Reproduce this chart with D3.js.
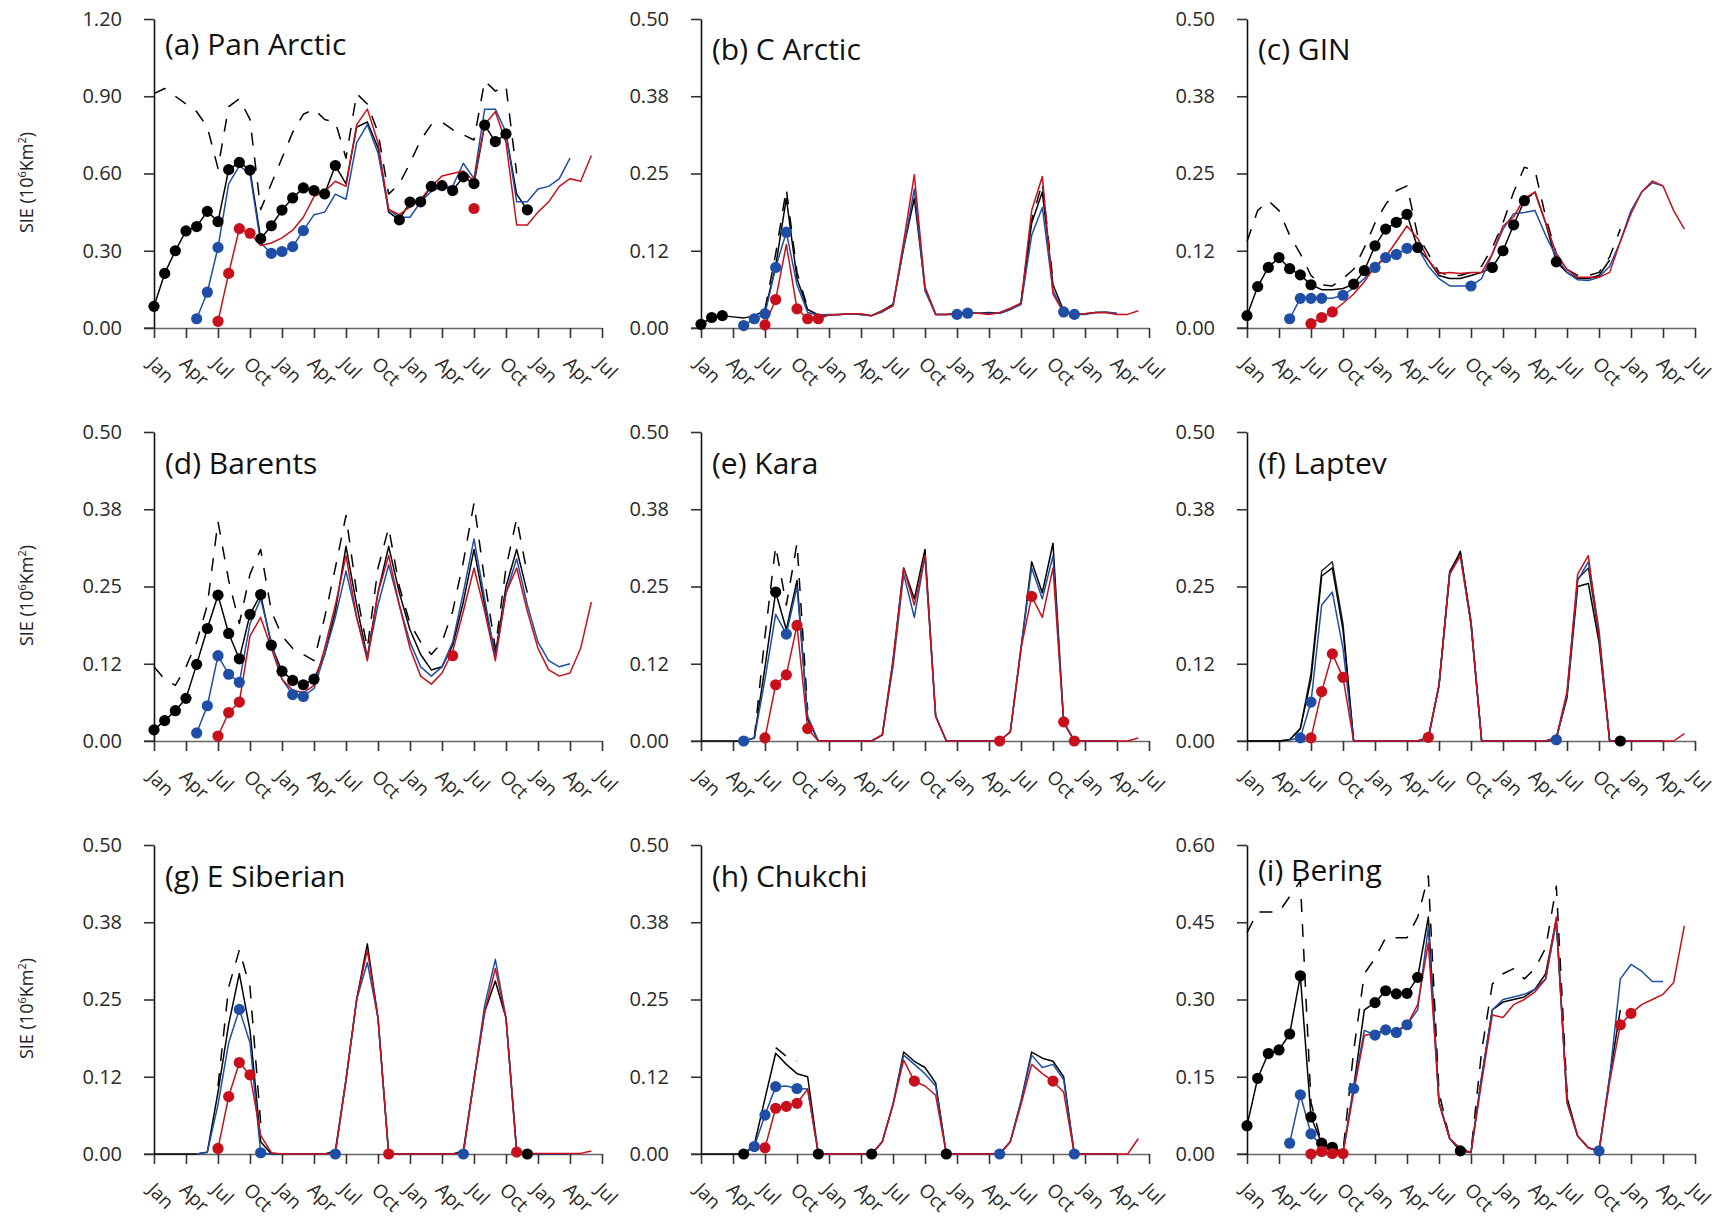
<!DOCTYPE html>
<html>
<head>
<meta charset="utf-8">
<script src="https://cdn.jsdelivr.net/npm/d3@7"></script>
<style>
  body { margin: 0; background: #fff; }
  svg { display: block; }
  text { font-family: "Open Sans", "Noto Sans", sans-serif; }
</style>
</head>
<body>
<svg id="fig" width="1725" height="1218"></svg>
<script>
// Monthly sea-ice extent, months counted from Jan of the first year (0) to Jul of the fourth (42).
const pad = (n, vals) => Array(n).fill(null).concat(vals);

const monthLabels = ["Jan", "Apr", "Jul", "Oct"];
const tickMonths = d3.range(0, 43, 3);

const ticksPan = [0, 0.3, 0.6, 0.9, 1.2];
const labelsPan = ["0.00", "0.30", "0.60", "0.90", "1.20"];
const ticksSea = [0, 0.125, 0.25, 0.375, 0.5];
const labelsSea = ["0.00", "0.12", "0.25", "0.38", "0.50"];
const ticksBering = [0, 0.15, 0.3, 0.45, 0.6];
const labelsBering = ["0.00", "0.15", "0.30", "0.45", "0.60"];

// (a) Pan Arctic
const aBlack = [0.084,0.212,0.300,0.377,0.394,0.453,0.413,0.615,0.643,0.613,0.347,0.397,0.458,0.505,0.544,0.534,0.521,0.631,0.560,0.780,0.800,0.700,0.450,0.420,0.489,0.490,0.550,0.553,0.534,0.587,0.561,0.788,0.724,0.754,0.520,0.459];
const aBlackDots = [[0,0.084],[1,0.212],[2,0.300],[3,0.377],[4,0.394],[5,0.453],[6,0.413],[7,0.615],[8,0.643],[9,0.613],[10,0.347],[11,0.397],[12,0.458],[13,0.505],[14,0.544],[15,0.534],[16,0.521],[17,0.631],[23,0.420],[24,0.489],[25,0.490],[26,0.550],[27,0.553],[28,0.534],[29,0.587],[30,0.561],[31,0.788],[32,0.724],[33,0.754],[35,0.459]];
const aBlue = pad(4,[0.036,0.139,0.313,0.560,0.630,0.600,0.330,0.290,0.297,0.316,0.378,0.440,0.450,0.520,0.500,0.720,0.790,0.680,0.460,0.430,0.430,0.490,0.530,0.550,0.550,0.640,0.580,0.850,0.850,0.760,0.490,0.490,0.540,0.550,0.580,0.660]);
const aBlueDots = [[4,0.036],[5,0.139],[6,0.313],[11,0.290],[12,0.297],[13,0.316],[14,0.378]];
const aRed = pad(6,[0.026,0.212,0.386,0.368,0.320,0.330,0.350,0.380,0.430,0.510,0.530,0.570,0.550,0.790,0.850,0.720,0.460,0.440,0.470,0.500,0.550,0.590,0.600,0.610,0.570,0.790,0.840,0.720,0.400,0.400,0.450,0.490,0.550,0.580,0.570,0.670]);
const aRedDots = [[6,0.026],[7,0.212],[8,0.386],[9,0.368],[30,0.464]];
const aDash = [0.91,0.93,0.90,0.87,0.84,0.78,0.62,0.86,0.89,0.81,0.46,0.56,0.66,0.76,0.83,0.85,0.81,0.80,0.66,0.91,0.87,0.76,0.52,0.56,0.64,0.73,0.79,0.80,0.77,0.75,0.73,0.96,0.92,0.94,0.60];

// (b) C Arctic
const bBlack = [0.006,0.017,0.020,0.018,0.016,0.020,0.028,0.100,0.210,0.080,0.030,0.021,0.021,0.022,0.023,0.022,0.020,0.028,0.038,0.130,0.210,0.065,0.022,0.022,0.024,0.025,0.024,0.025,0.024,0.030,0.040,0.170,0.220,0.070,0.028,0.022,0.023,0.025,0.025,0.023];
const bBlackDots = [[0,0.006],[1,0.017],[2,0.020]];
const bBlue = pad(4,[0.004,0.015,0.023,0.098,0.155,0.070,0.025,0.021,0.022,0.022,0.023,0.022,0.020,0.026,0.036,0.130,0.225,0.060,0.022,0.022,0.022,0.024,0.024,0.024,0.024,0.030,0.038,0.150,0.195,0.060,0.026,0.022,0.022,0.025,0.026,0.024]);
const bBlueDots = [[4,0.004],[5,0.015],[6,0.023],[7,0.098],[8,0.155],[24,0.022],[25,0.024],[34,0.026],[35,0.022]];
const bRed = pad(6,[0.005,0.046,0.135,0.031,0.015,0.015,0.021,0.022,0.023,0.023,0.020,0.028,0.036,0.140,0.248,0.066,0.022,0.022,0.024,0.024,0.024,0.022,0.025,0.032,0.040,0.190,0.245,0.055,0.025,0.022,0.023,0.025,0.025,0.022,0.022,0.028]);
const bRedDots = [[6,0.005],[7,0.046],[9,0.031],[10,0.015],[11,0.015]];
const bDash = pad(6,[0.030,0.120,0.225,0.090,0.032]).concat(pad(19,[0.042,0.175,0.235,0.075]));

// (c) GIN
const cBlack = [0.020,0.067,0.098,0.114,0.096,0.086,0.070,0.062,0.062,0.064,0.071,0.093,0.133,0.160,0.171,0.184,0.130,0.110,0.085,0.080,0.080,0.085,0.090,0.098,0.125,0.167,0.206,0.220,0.170,0.107,0.090,0.080,0.080,0.085,0.110];
const cBlackDots = [[0,0.020],[1,0.067],[2,0.098],[3,0.114],[4,0.096],[5,0.086],[6,0.070],[10,0.071],[11,0.093],[12,0.133],[13,0.160],[14,0.171],[15,0.184],[16,0.130],[23,0.098],[24,0.125],[25,0.167],[26,0.206],[29,0.107]];
const cBlue = pad(4,[0.015,0.048,0.048,0.048,0.048,0.053,0.065,0.080,0.098,0.114,0.119,0.129,0.130,0.100,0.080,0.068,0.068,0.068,0.080,0.120,0.160,0.185,0.187,0.190,0.150,0.115,0.090,0.078,0.077,0.082,0.100,0.140,0.190,0.220,0.235,0.230]);
const cBlueDots = [[4,0.015],[5,0.048],[6,0.048],[7,0.048],[9,0.053],[12,0.098],[13,0.114],[14,0.119],[15,0.129],[21,0.068]];
const cRed = pad(6,[0.007,0.017,0.026,0.040,0.055,0.075,0.100,0.115,0.140,0.165,0.145,0.110,0.088,0.090,0.088,0.090,0.090,0.120,0.165,0.180,0.210,0.220,0.170,0.120,0.095,0.082,0.082,0.082,0.090,0.140,0.185,0.220,0.238,0.230,0.190,0.160]);
const cRedDots = [[6,0.007],[7,0.017],[8,0.026]];
const cDash = [0.140,0.190,0.206,0.190,0.150,0.120,0.085,0.070,0.068,0.080,0.095,0.130,0.170,0.200,0.222,0.230,0.150,0.120,0.090,0.085,0.085,0.090,0.100,0.130,0.170,0.220,0.260,0.255,0.180,0.120,0.095,0.085,0.085,0.090,0.115,0.160];

// (d) Barents
const dBlack = [0.018,0.033,0.049,0.069,0.124,0.182,0.236,0.174,0.133,0.205,0.237,0.155,0.113,0.098,0.091,0.100,0.140,0.210,0.315,0.220,0.135,0.240,0.315,0.240,0.180,0.140,0.115,0.120,0.155,0.225,0.310,0.220,0.140,0.250,0.310,0.240];
const dBlackDots = [[0,0.018],[1,0.033],[2,0.049],[3,0.069],[4,0.124],[5,0.182],[6,0.236],[7,0.174],[8,0.133],[9,0.205],[10,0.237],[11,0.155],[12,0.113],[13,0.098],[14,0.091],[15,0.100]];
const dBlue = pad(4,[0.013,0.057,0.138,0.108,0.095,0.190,0.230,0.160,0.100,0.075,0.072,0.085,0.140,0.200,0.275,0.200,0.135,0.220,0.285,0.220,0.160,0.120,0.105,0.120,0.160,0.240,0.327,0.230,0.135,0.240,0.295,0.220,0.160,0.130,0.120,0.125]);
const dBlueDots = [[4,0.013],[5,0.057],[6,0.138],[7,0.108],[8,0.095],[13,0.075],[14,0.072]];
const dRed = pad(6,[0.008,0.046,0.063,0.170,0.200,0.150,0.100,0.082,0.078,0.090,0.150,0.220,0.300,0.200,0.130,0.240,0.300,0.220,0.150,0.105,0.092,0.110,0.145,0.210,0.280,0.210,0.130,0.240,0.280,0.210,0.150,0.115,0.105,0.110,0.150,0.225]);
const dRedDots = [[6,0.008],[7,0.046],[8,0.063],[28,0.138]];
const dDash = [0.120,0.100,0.090,0.120,0.160,0.220,0.355,0.260,0.190,0.270,0.310,0.210,0.170,0.150,0.140,0.130,0.200,0.280,0.365,0.240,0.150,0.280,0.345,0.250,0.190,0.160,0.140,0.160,0.210,0.290,0.385,0.260,0.150,0.280,0.360,0.270];

// (e) Kara
const eBlack = [0,0,0,0,0,0.005,0.120,0.241,0.180,0.260,0.035,0,0,0,0,0,0,0.010,0.130,0.280,0.230,0.310,0.040,0,0,0,0,0,0,0.015,0.150,0.290,0.240,0.320,0.030,0,0,0,0,0];
const eBlackDots = [[7,0.241]];
const eBlue = pad(4,[0,0.005,0.100,0.205,0.173,0.250,0.040,0,0,0,0,0,0,0.010,0.120,0.270,0.200,0.300,0.040,0,0,0,0,0,0,0.015,0.150,0.280,0.230,0.300,0.030,0,0,0,0,0]);
const eBlueDots = [[4,0],[8,0.173]];
const eRed = pad(6,[0.005,0.091,0.107,0.187,0.020,0,0,0,0,0,0,0.010,0.130,0.280,0.220,0.300,0.040,0,0,0,0,0,0,0.015,0.150,0.234,0.200,0.280,0.031,0,0,0,0,0,0,0.005]);
const eRedDots = [[6,0.005],[7,0.091],[8,0.107],[9,0.187],[10,0.020],[28,0],[31,0.234],[34,0.031],[35,0]];
const eDash = pad(5,[0.005,0.170,0.315,0.220,0.320,0.050]);

// (f) Laptev
const fBlack = [0,0,0,0,0.002,0.020,0.100,0.267,0.280,0.180,0,0,0,0,0,0,0,0.005,0.090,0.270,0.307,0.190,0,0,0,0,0,0,0,0.005,0.070,0.250,0.255,0.160,0,0,0,0,0,0];
const fBlack2 = [0,0,0,0,0.002,0.020,0.110,0.275,0.290,0.190,0,0,0,0,0,0,0,0.005,0.090,0.275,0.305,0.195,0,0,0,0,0,0,0,0.005,0.075,0.262,0.280,0.170,0,0,0,0,0,0];
const fBlackDots = [[35,0]];
const fBlue = pad(4,[0.002,0.005,0.063,0.220,0.241,0.150,0,0,0,0,0,0,0,0.005,0.090,0.270,0.300,0.190,0,0,0,0,0,0,0,0.002,0.075,0.260,0.290,0.180,0,0,0,0,0,0]);
const fBlueDots = [[5,0.005],[6,0.063],[29,0.002]];
const fRed = pad(6,[0.005,0.080,0.141,0.103,0,0,0,0,0,0,0,0.006,0.090,0.270,0.300,0.190,0,0,0,0,0,0,0,0.005,0.080,0.270,0.300,0.170,0,0,0,0,0,0,0,0.012]);
const fRedDots = [[6,0.005],[7,0.080],[8,0.141],[9,0.103],[17,0.006]];
const fDash = [];

// (g) E Siberian
const gBlack = [0,0,0,0,0,0.003,0.100,0.210,0.292,0.200,0.020,0,0,0,0,0,0,0.005,0.120,0.250,0.340,0.220,0,0,0,0,0,0,0,0.005,0.120,0.230,0.280,0.220,0.005,0,0,0,0,0];
const gBlackDots = [[35,0]];
const gBlue = pad(4,[0,0.003,0.080,0.180,0.234,0.180,0.002,0,0,0,0,0,0,0,0.120,0.250,0.310,0.220,0,0,0,0,0,0,0,0,0.120,0.240,0.315,0.220,0.003,0,0,0,0,0]);
const gBlueDots = [[8,0.234],[10,0.002],[17,0],[29,0]];
const gRed = pad(6,[0.009,0.093,0.148,0.128,0.030,0.002,0,0,0,0,0,0.002,0.120,0.250,0.330,0.220,0,0,0,0,0,0,0,0.002,0.120,0.230,0.300,0.220,0.003,0.001,0.001,0.001,0.001,0.001,0.001,0.005]);
const gRedDots = [[6,0.009],[7,0.093],[8,0.148],[9,0.128],[22,0],[34,0.003]];
const gDash = pad(6,[0.110,0.270,0.330,0.270,0.050]);

// (h) Chukchi
const hBlack = [0,0,0,0,0,0.015,0.090,0.163,0.145,0.130,0.125,0,0,0,0,0,0,0.020,0.080,0.165,0.150,0.140,0.115,0,0,0,0,0,0,0.020,0.085,0.165,0.155,0.150,0.125,0,0,0,0,0];
const hBlackDots = [[4,0],[11,0],[16,0],[23,0]];
const hBlue = pad(4,[0,0.012,0.063,0.109,0.110,0.106,0.105,0,0,0,0,0,0,0.020,0.080,0.160,0.145,0.130,0.110,0,0,0,0,0,0,0.020,0.085,0.160,0.140,0.145,0.120,0,0,0,0,0]);
const hBlueDots = [[5,0.012],[6,0.063],[7,0.109],[9,0.106],[28,0],[35,0]];
const hRed = pad(6,[0.010,0.074,0.077,0.082,0.105,0,0,0,0,0,0,0.020,0.080,0.152,0.118,0.110,0.095,0,0,0,0,0,0,0.020,0.080,0.145,0.130,0.118,0.100,0,0,0,0,0,0,0.025]);
const hRedDots = [[6,0.010],[7,0.074],[8,0.077],[9,0.082],[20,0.118],[33,0.118]];
const hDash = pad(7,[0.172,0.158,0.150]);

// (i) Bering
const iBlack = [0.055,0.147,0.195,0.202,0.233,0.346,0.072,0.021,0.013,0.003,0.130,0.280,0.294,0.317,0.311,0.312,0.343,0.460,0.100,0.030,0.006,0.003,0.150,0.280,0.295,0.300,0.305,0.320,0.350,0.455,0.110,0.035,0.012,0.005,0.150,0.280];
const iBlackDots = [[0,0.055],[1,0.147],[2,0.195],[3,0.202],[4,0.233],[5,0.346],[6,0.072],[7,0.021],[8,0.013],[12,0.294],[13,0.317],[14,0.311],[15,0.312],[16,0.343],[20,0.006]];
const iBlue = pad(4,[0.021,0.115,0.039,0.015,0.006,0.003,0.127,0.240,0.231,0.241,0.236,0.251,0.280,0.440,0.100,0.030,0.010,0.003,0.150,0.280,0.300,0.305,0.310,0.320,0.340,0.450,0.100,0.035,0.012,0.006,0.150,0.340,0.368,0.355,0.335,0.335]);
const iBlueDots = [[4,0.021],[5,0.115],[6,0.039],[10,0.127],[12,0.231],[13,0.241],[14,0.236],[15,0.251],[33,0.006]];
const iRed = pad(6,[0,0.005,0.001,0.001,0.120,0.230,0.235,0.240,0.240,0.250,0.290,0.410,0.100,0.030,0.010,0.003,0.140,0.270,0.265,0.290,0.300,0.315,0.340,0.460,0.100,0.035,0.012,0.006,0.140,0.251,0.273,0.290,0.300,0.310,0.333,0.443]);
const iRedDots = [[6,0],[7,0.005],[8,0.001],[9,0.001],[35,0.251],[36,0.273]];
const iDash = [0.430,0.470,0.470,0.470,0.500,0.530,0.100,0.020,0.010,0.005,0.200,0.350,0.380,0.420,0.420,0.420,0.460,0.540,0.120,0.030,0.010,0.005,0.200,0.330,0.350,0.360,0.340,0.360,0.400,0.520,0.120];

// Panel table assembled from the arrays above
const panels = [
  { title: "(a) Pan Arctic", ticks: ticksPan, labels: labelsPan, dash: aDash, black: aBlack, black2: null, blue: aBlue, red: aRed, blackDots: aBlackDots, blueDots: aBlueDots, redDots: aRedDots },
  { title: "(b) C Arctic", ticks: ticksSea, labels: labelsSea, dash: bDash, black: bBlack, black2: null, blue: bBlue, red: bRed, blackDots: bBlackDots, blueDots: bBlueDots, redDots: bRedDots },
  { title: "(c) GIN", ticks: ticksSea, labels: labelsSea, dash: cDash, black: cBlack, black2: null, blue: cBlue, red: cRed, blackDots: cBlackDots, blueDots: cBlueDots, redDots: cRedDots },
  { title: "(d) Barents", ticks: ticksSea, labels: labelsSea, dash: dDash, black: dBlack, black2: null, blue: dBlue, red: dRed, blackDots: dBlackDots, blueDots: dBlueDots, redDots: dRedDots },
  { title: "(e) Kara", ticks: ticksSea, labels: labelsSea, dash: eDash, black: eBlack, black2: null, blue: eBlue, red: eRed, blackDots: eBlackDots, blueDots: eBlueDots, redDots: eRedDots },
  { title: "(f) Laptev", ticks: ticksSea, labels: labelsSea, dash: fDash, black: fBlack, black2: fBlack2, blue: fBlue, red: fRed, blackDots: fBlackDots, blueDots: fBlueDots, redDots: fRedDots },
  { title: "(g) E Siberian", ticks: ticksSea, labels: labelsSea, dash: gDash, black: gBlack, black2: null, blue: gBlue, red: gRed, blackDots: gBlackDots, blueDots: gBlueDots, redDots: gRedDots },
  { title: "(h) Chukchi", ticks: ticksSea, labels: labelsSea, dash: hDash, black: hBlack, black2: null, blue: hBlue, red: hRed, blackDots: hBlackDots, blueDots: hBlueDots, redDots: hRedDots },
  { title: "(i) Bering", ticks: ticksBering, labels: labelsBering, dash: iDash, black: iBlack, black2: null, blue: iBlue, red: iRed, blackDots: iBlackDots, blueDots: iBlueDots, redDots: iRedDots }
];

// Layout
const colX = [154, 701, 1247];
const rowY = [19, 432, 845];
const plotW = 448, plotH = 309;
const titleDrop = [36, 41, 41, 42, 42, 42, 42, 42, 36];

const BLUE = "#1f4ea6", RED = "#c8101c", BLACK = "#000";

const svg = d3.select("#fig");
svg.append("rect").attr("width", 1725).attr("height", 1218).attr("fill", "#fff");

panels.forEach((p, k) => {
  const col = k % 3, row = Math.floor(k / 3);
  const g = svg.append("g").attr("transform", `translate(${colX[col]},${rowY[row]})`);

  const x = d3.scaleLinear().domain([0, 42]).range([0, plotW]);
  const y = d3.scaleLinear().domain([0, p.ticks[p.ticks.length - 1]]).range([plotH, 0]);

  // x axis with slanted month names
  const xAxis = d3.axisBottom(x)
    .tickValues(tickMonths)
    .tickFormat((d, i) => monthLabels[i % 4])
    .tickSize(10).tickSizeOuter(0);
  const gx = g.append("g").attr("transform", `translate(0,${plotH})`).call(xAxis);
  gx.select(".domain").attr("stroke", "#666").attr("stroke-width", 1.6);
  gx.selectAll(".tick line").attr("stroke", "#333").attr("stroke-width", 1.6);
  gx.selectAll("text")
    .attr("x", 0).attr("y", 0).attr("dy", 0)
    .attr("text-anchor", "start")
    .attr("transform", "translate(-8,37) rotate(45)")
    .attr("fill", "#2a2a2a")
    .style("font-size", "19px");
  g.append("line").attr("x1", -10).attr("x2", 0).attr("y1", plotH).attr("y2", plotH)
    .attr("stroke", "#666").attr("stroke-width", 1.6);

  // y axis
  const yAxis = d3.axisLeft(y)
    .tickValues(p.ticks)
    .tickFormat((d, i) => p.labels[i])
    .tickSize(10).tickSizeOuter(0).tickPadding(22);
  const gy = g.append("g").call(yAxis);
  gy.select(".domain").attr("stroke", "#111").attr("stroke-width", 1.6);
  gy.selectAll(".tick line").attr("stroke", "#333").attr("stroke-width", 1.6);
  gy.selectAll("text").attr("fill", "#2a2a2a").style("font-size", "20px");

  // panel title
  g.append("text")
    .attr("x", 11).attr("y", titleDrop[k])
    .attr("fill", "#111")
    .style("font-size", "30px")
    .text(p.title);

  const line = d3.line()
    .defined(d => d != null)
    .x((d, i) => x(i))
    .y(d => y(d));

  const draw = (vals, color, width, dash) => {
    if (!vals || !vals.length) return;
    const path = g.append("path")
      .attr("d", line(vals))
      .attr("fill", "none")
      .attr("stroke", color)
      .attr("stroke-width", width)
      .attr("stroke-linejoin", "round");
    if (dash) path.attr("stroke-dasharray", dash);
  };

  draw(p.dash, BLACK, 1.5, "13,12");
  draw(p.black2, "#222", 1.4);
  draw(p.black, BLACK, 1.5);
  draw(p.blue, BLUE, 1.5);
  draw(p.red, RED, 1.5);

  const dots = (pts, color) => {
    g.selectAll(null).data(pts).enter().append("circle")
      .attr("cx", d => x(d[0]))
      .attr("cy", d => y(d[1]))
      .attr("r", 5.6)
      .attr("fill", color);
  };
  dots(p.blackDots, BLACK);
  dots(p.blueDots, BLUE);
  dots(p.redDots, RED);

  // y-axis title on the left column
  if (col === 0) {
    const t = svg.append("text")
      .attr("transform", `translate(33,${rowY[row] + plotH / 2 + 9}) rotate(-90)`)
      .attr("text-anchor", "middle")
      .attr("fill", "#222")
      .style("font-size", "18px");
    t.append("tspan").text("SIE (10");
    t.append("tspan").attr("dy", -7).style("font-size", "11px").text("6");
    t.append("tspan").attr("dy", 7).text("Km");
    t.append("tspan").attr("dy", -7).style("font-size", "11px").text("2");
    t.append("tspan").attr("dy", 7).text(")");
  }
});
</script>
</body>
</html>
